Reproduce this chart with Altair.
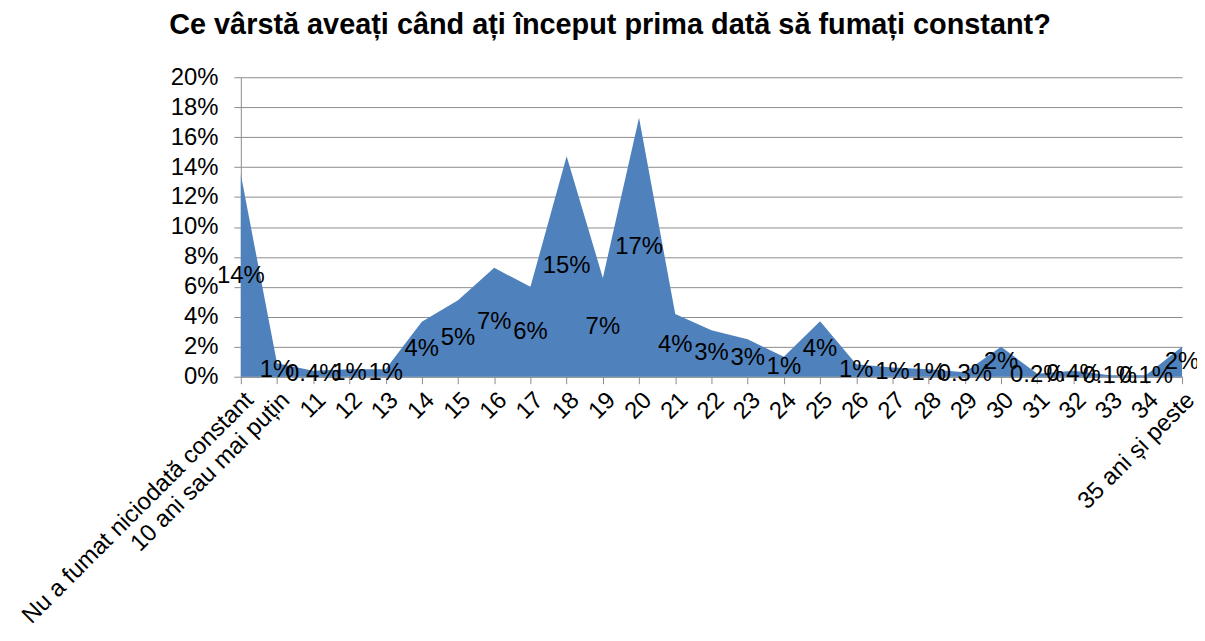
import altair as alt
import pandas as pd

categories = ["Nu a fumat niciodată constant", "10 ani sau mai puțin"] + [str(i) for i in range(11, 35)] + ["35 ani și peste"]
values = [13.5, 0.9, 0.4, 0.5, 0.5, 3.67, 5.1, 7.27, 6.0, 14.73, 6.6, 17.29, 4.18, 3.1, 2.5, 1.33, 3.7,
          0.84, 0.62, 0.5, 0.3, 2.0, 0.2, 0.4, 0.1, 0.1, 2.0]
labels = ["14%", "1%", "0.4%", "1%", "1%", "4%", "5%", "7%", "6%", "15%", "7%", "17%", "4%", "3%", "3%", "1%", "4%",
          "1%", "1%", "1%", "0.3%", "2%", "0.2%", "0.4%", "0.1%", "0.1%", "2%"]
y_ticks = [0, 2, 4, 6, 8, 10, 12, 14, 16, 18, 20]

df = pd.DataFrame({"cat": categories, "val": values, "lab": labels})
df["half"] = df["val"] / 2

FONT = "Liberation Sans"

x_axis = alt.Axis(title=None, labelAngle=-45, labelFontSize=24, labelFont=FONT,
                  labelColor="#000000", domainColor="#8c8c8c", tickColor="#8c8c8c",
                  tickSize=7, labelPadding=4, grid=False, labelLimit=0, labelOverlap=False)
y_axis = alt.Axis(title=None, values=y_ticks, labelExpr="datum.value + '%'",
                  labelFontSize=24, labelFont=FONT, labelColor="#000000",
                  gridColor="#8c8c8c", gridWidth=1, domainColor="#8c8c8c",
                  tickColor="#8c8c8c", tickSize=7, labelPadding=16, labelOverlap=False)
x_scale = alt.Scale(type="point", padding=0)
y_scale = alt.Scale(domain=[0, 20], nice=False)

area = alt.Chart(df).mark_area(color="#4F81BD", opacity=1).encode(
    x=alt.X("cat:O", sort=categories, scale=x_scale, axis=x_axis),
    y=alt.Y("val:Q", scale=y_scale, axis=y_axis),
)

text = alt.Chart(df).mark_text(
    fontSize=24, font=FONT, color="#000000", align="center", baseline="middle"
).encode(
    x=alt.X("cat:O", sort=categories, scale=x_scale, axis=x_axis),
    y=alt.Y("half:Q", scale=y_scale, axis=y_axis),
    text="lab:N",
)

chart = (area + text).properties(
    width=946, height=301,
    autosize=alt.AutoSizeParams(type="none"),
    padding={"left": 234, "top": 68, "right": 15, "bottom": 254},
    title=alt.TitleParams("Ce vârstă aveați când ați început prima dată să fumați constant?",
                          anchor="start", frame="group", dx=-72, fontSize=29, font=FONT,
                          fontWeight="bold", color="#000000", offset=25),
).configure_view(stroke=None)

chart.save("out.html", embed_options={"renderer": "svg", "actions": False})
